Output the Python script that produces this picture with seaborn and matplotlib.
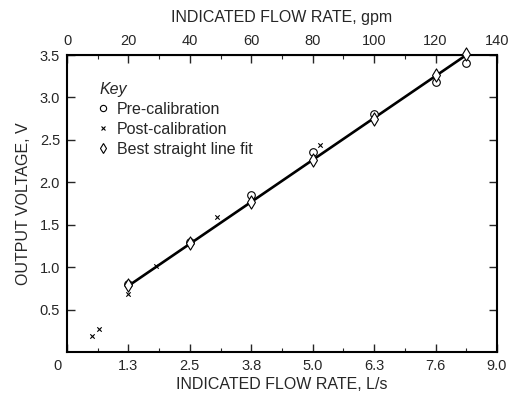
import matplotlib
matplotlib.use("Agg")
import matplotlib.pyplot as plt
import matplotlib.transforms as mtransforms
from matplotlib.lines import Line2D
import seaborn as sns
import pandas as pd

# ---- data (x in gpm, y in volts) ----
pre_x = [20, 40, 60, 80, 100, 120, 130]
pre_y = [0.80, 1.30, 1.85, 2.36, 2.81, 3.18, 3.41]

post_x = [8, 10.5, 20, 29, 49, 82.5]
post_y = [0.19, 0.27, 0.68, 1.01, 1.59, 2.44]

fit_x = [20, 40, 60, 80, 100, 120, 130]
fit_y = [0.79, 1.28, 1.77, 2.26, 2.74, 3.26, 3.51]

line_x = [20, 130]
line_y = [0.78, 3.50]

gpm_ticks = [0, 20, 40, 60, 80, 100, 120, 140]
gpm_labels = ["0", "20", "40", "60", "80", "100", "120", "140"]
ls_labels = ["0", "1.3", "2.5", "3.8", "5.0", "6.3", "7.6", "9.0"]
y_ticks = [0.5, 1.0, 1.5, 2.0, 2.5, 3.0, 3.5]
y_labels = ["0.5", "1.0", "1.5", "2.0", "2.5", "3.0", "3.5"]

sns.set_style("ticks")
plt.rcParams["font.family"] = ["Liberation Sans", "DejaVu Sans"]

fig = plt.figure(figsize=(5.1, 3.95), dpi=100)
ax = fig.add_axes([67 / 510, 1 - 352 / 395, 430 / 510, 297 / 395])

sns.lineplot(x=line_x, y=line_y, ax=ax, color="black", lw=1.9, clip_on=False,
             zorder=2)
sns.scatterplot(x=pre_x, y=pre_y, ax=ax, marker="o", s=30, facecolor="white",
                edgecolor="black", linewidth=0.8, zorder=3, clip_on=False)
sns.scatterplot(x=fit_x, y=fit_y, ax=ax, marker="d", s=45, facecolor="white",
                edgecolor="black", linewidth=0.8, zorder=4, clip_on=False)
sns.scatterplot(x=post_x, y=post_y, ax=ax, marker="x", s=10, color="black",
                linewidth=0.8, zorder=5, clip_on=False)

ax.set_xlim(0, 140)
ax.set_ylim(0, 3.5)

TF = 10.5
ax.set_xticks(gpm_ticks)
ax.set_xticklabels(ls_labels, fontsize=TF)
ax.set_xticks([10, 30, 50, 70, 90, 110, 130], minor=True)
ax.set_yticks(y_ticks)
ax.set_yticklabels(y_labels, fontsize=TF)

ax.tick_params(axis="both", which="major", direction="in", length=6,
               width=1.0, right=True, top=False, pad=5)
ax.tick_params(axis="x", which="minor", direction="in", length=3, width=0.8)

# shift the "0" label on the bottom axis to the left
lbl0 = ax.get_xticklabels()[0]
lbl0.set_transform(lbl0.get_transform() +
                   mtransforms.ScaledTranslation(-0.10, 0, fig.dpi_scale_trans))

for sp in ax.spines.values():
    sp.set_linewidth(1.5)
    sp.set_color("black")

LF = 11.5
ax.set_xlabel("INDICATED FLOW RATE, L/s", fontsize=LF, labelpad=3)
ax.set_ylabel("OUTPUT VOLTAGE, V", fontsize=LF, labelpad=6)

top = ax.secondary_xaxis("top")
top.set_xticks(gpm_ticks)
top.set_xticklabels(gpm_labels, fontsize=TF)
top.set_xticks([10, 30, 50, 70, 90, 110, 130], minor=True)
top.tick_params(axis="x", which="major", direction="in", length=6, width=1.0, pad=5)
top.tick_params(axis="x", which="minor", direction="in", length=3, width=0.8)
top.set_xlabel("INDICATED FLOW RATE, gpm", fontsize=LF, labelpad=9)

handles = [
    Line2D([], [], ls="none", marker="o", ms=4.5, mfc="white", mec="black", mew=0.8),
    Line2D([], [], ls="none", marker="x", ms=2.5, color="black", mew=0.8),
    Line2D([], [], ls="none", marker="d", ms=5.5, mfc="white", mec="black", mew=0.8),
]
leg = ax.legend(handles, ["Pre-calibration", "Post-calibration",
                          "Best straight line fit"],
                title="Key", loc="upper left", bbox_to_anchor=(0.06, 0.93),
                frameon=False, fontsize=11.5, handlelength=0.5, handletextpad=0.6,
                labelspacing=0.3, borderaxespad=0, alignment="left")
leg.get_title().set_fontstyle("italic")
leg.get_title().set_fontsize(11.5)

fig.savefig("out.png", dpi=100)
